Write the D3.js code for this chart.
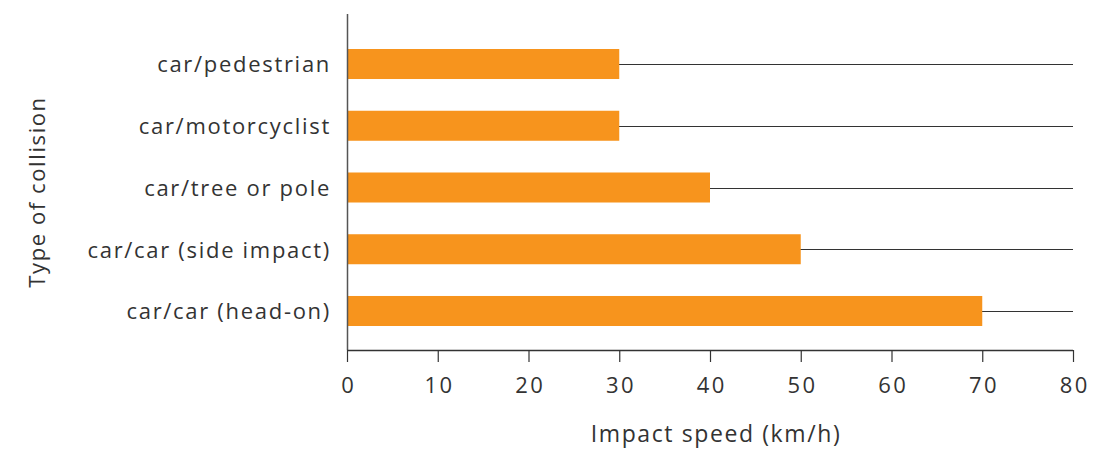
<!DOCTYPE html>
<html>
<head>
<meta charset="utf-8">
<script src="https://cdn.jsdelivr.net/npm/d3@7"></script>
<style>
  html, body { margin: 0; padding: 0; background: #fff; }
  svg { display: block; }
  text { font-family: "Open Sans", sans-serif; fill: #333; }
</style>
</head>
<body>
<svg id="chart" width="1113" height="451"></svg>
<script>
const categories = ["car/pedestrian", "car/motorcyclist", "car/tree or pole", "car/car (side impact)", "car/car (head-on)"];
const values = [30, 30, 40, 50, 70];
const xTicks = [0, 10, 20, 30, 40, 50, 60, 70, 80];
const xTitle = "Impact speed (km/h)";
const yTitle = "Type of collision";

const svg = d3.select("#chart");
const x0 = 347, x1 = 1073, yTop = 14, yAxis = 350;

const x = d3.scaleLinear().domain([0, 80]).range([x0, x1]);
const y = d3.scaleBand().domain(categories).range([yTop, 361]).paddingInner(0.514).paddingOuter(0.567);

// gridlines at category centers
svg.append("g").selectAll("line").data(categories).join("line")
  .attr("x1", x0).attr("x2", x1)
  .attr("y1", d => Math.round(y(d) + y.bandwidth() / 2) + 0.5)
  .attr("y2", d => Math.round(y(d) + y.bandwidth() / 2) + 0.5)
  .attr("stroke", "#333").attr("stroke-width", 1.2);

// bars
svg.append("g").selectAll("rect").data(categories).join("rect")
  .attr("x", x(0))
  .attr("y", d => y(d))
  .attr("width", (d, i) => x(values[i]) - x(0))
  .attr("height", y.bandwidth())
  .attr("fill", "#F7941D");

// y axis line
svg.append("line").attr("x1", x0 + 0.5).attr("x2", x0 + 0.5).attr("y1", yTop).attr("y2", yAxis)
  .attr("stroke", "#555").attr("stroke-width", 1.5);

// category labels
svg.append("g").selectAll("text").data(categories).join("text")
  .attr("x", 331)
  .attr("y", d => y(d) + y.bandwidth() / 2)
  .attr("dy", "0.38em")
  .attr("text-anchor", "end")
  .style("font-size", "22px")
  .style("letter-spacing", "1.7px")
  .text(d => d);

// x axis
const xAxis = d3.axisBottom(x).tickValues(xTicks).tickSize(12).tickPadding(8);
const gx = svg.append("g").attr("transform", `translate(0,${yAxis})`).call(xAxis);
gx.select(".domain").attr("stroke", "#333").attr("stroke-width", 1.5).attr("d", `M${x0},0.5H${x1}`);
gx.selectAll(".tick line").attr("stroke", "#333").attr("stroke-width", 1.2);
gx.selectAll(".tick text").style("font-size", "22px").style("font-family", "'Open Sans', sans-serif")
  .style("letter-spacing", "2.4px")
  .attr("fill", "#333").attr("x", 1.2).attr("y", 43).attr("dy", 0);

// axis titles
svg.append("text").attr("x", 716).attr("y", 442).attr("text-anchor", "middle")
  .style("font-size", "23px").style("letter-spacing", "1.6px").text(xTitle);
svg.append("text").attr("transform", "translate(45,192) rotate(-90)").attr("text-anchor", "middle")
  .style("font-size", "22px").style("letter-spacing", "1.6px").text(yTitle);
</script>
</body>
</html>
